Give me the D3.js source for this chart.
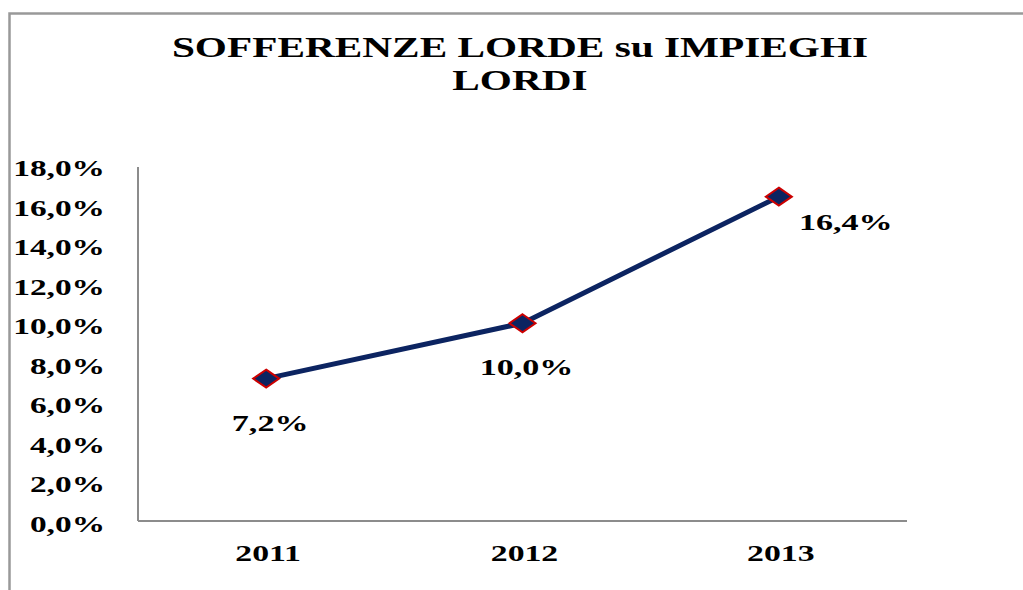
<!DOCTYPE html>
<html>
<head>
<meta charset="utf-8">
<script src="https://cdn.jsdelivr.net/npm/d3@7"></script>
<style>
  body { margin: 0; background: #fff; }
  text { font-family: "Liberation Serif", "Times New Roman", serif; font-weight: bold; fill: #000; }
</style>
</head>
<body>
<div id="chart"></div>
<script>
// data
var years = ["2011", "2012", "2013"];
var ratios = [7.2, 10.0, 16.4];
var yTicks = [0, 2, 4, 6, 8, 10, 12, 14, 16, 18];
var labelPlace = ["below", "below", "right"];
var titleLines = ["SOFFERENZE LORDE su IMPIEGHI", "LORDI"];

var svgWidth = 1023;
var svgHeight = 590;

var svg = d3.select("#chart")
  .append("svg")
  .attr("width", svgWidth)
  .attr("height", svgHeight);

// outer frame (only top and left edges show)
svg.append("path")
  .attr("d", "M9.5,590 L9.5,13.5 L1023,13.5")
  .attr("fill", "none")
  .attr("stroke", "#999")
  .attr("stroke-width", 2.5);

// text in the picture is stretched sideways
function wideText(g, x, y, str, size, sx, anchor) {
  return g.append("text")
    .attr("transform", `translate(${x},${y}) scale(${sx},1)`)
    .attr("text-anchor", anchor || "middle")
    .style("font-size", size + "px")
    .text(str);
}

// title
titleLines.forEach(function(t, i) {
  wideText(svg, 520, 57 + i * 33, t, 29.5, 1.4);
});

var x = d3.scalePoint()
  .domain(years)
  .range([138, 907])
  .padding(0.5);

var y = d3.scaleLinear()
  .domain([0, 18])
  .range([521, 165]);

// axes lines
svg.append("line")
  .attr("x1", 138).attr("x2", 138)
  .attr("y1", y(18) + 2).attr("y2", y(0))
  .attr("stroke", "#8c8c8c").attr("stroke-width", 2);
svg.append("line")
  .attr("x1", 138).attr("x2", 907)
  .attr("y1", y(0)).attr("y2", y(0))
  .attr("stroke", "#8c8c8c").attr("stroke-width", 2);

// y tick labels
var fmt = function(v) { return d3.format(".1f")(v).replace(".", ",") + "%"; };
yTicks.forEach(function(t) {
  wideText(svg, 105, y(t) + 11, fmt(t), 23.5, 1.42, "end");
});

// x tick labels
years.forEach(function(yr) {
  wideText(svg, x(yr) + 2, 561, yr, 22.5, 1.5);
});

// line
var line = d3.line()
  .x(function(d, i) { return x(years[i]); })
  .y(function(d) { return y(d); });

svg.append("path")
  .datum(ratios)
  .attr("d", line)
  .attr("fill", "none")
  .attr("stroke", "#0c2461")
  .attr("stroke-width", 5)
  .attr("stroke-linejoin", "round");

// diamond markers
var diamond = "M0,-9 L13,0 L0,9 L-13,0 Z";
svg.selectAll(".marker")
  .data(ratios)
  .enter()
  .append("path")
  .attr("class", "marker")
  .attr("d", diamond)
  .attr("transform", function(d, i) { return `translate(${x(years[i])},${y(d)})`; })
  .attr("fill", "#0c2461")
  .attr("stroke", "#cc0000")
  .attr("stroke-width", 2);

// data labels
ratios.forEach(function(v, i) {
  var px = x(years[i]), py = y(v);
  if (labelPlace[i] === "right") {
    wideText(svg, px + 67, py + 33, fmt(v), 24, 1.42);
  } else {
    wideText(svg, px + 4, py + 52, fmt(v), 24, 1.42);
  }
});
</script>
</body>
</html>
